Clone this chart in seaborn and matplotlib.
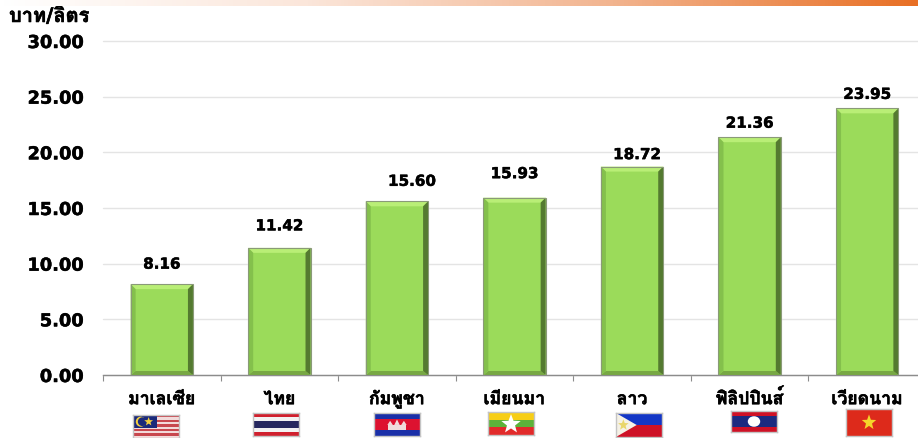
import numpy as np
import pandas as pd
import seaborn as sns
import matplotlib
matplotlib.use("Agg")
import matplotlib.pyplot as plt
import matplotlib.patheffects as pe
from matplotlib import font_manager as fm
from matplotlib.ft2font import FT2Font
from matplotlib.patches import Polygon, Rectangle, Ellipse
from matplotlib.colors import LinearSegmentedColormap

countries = ["มาเลเซีย", "ไทย", "กัมพูชา", "เมียนมา", "ลาว", "ฟิลิปปินส์", "เวียดนาม"]
prices = [8.16, 11.42, 15.60, 15.93, 18.72, 21.36, 23.95]
value_labels = ["8.16", "11.42", "15.60", "15.93", "18.72", "21.36", "23.95"]
y_ticks = [0, 5, 10, 15, 20, 25, 30]
unit_label = "บาท/ลิตร"

# hand placement of the value labels, in pixels from the top-centre of each bar
label_dx = [0, 0, 15, 0, 5, 0, 0]
label_dy = [20, 22, 20, 24, 12, 14, 14]

sns.set_theme(style="white")

thai = []
for f in fm.fontManager.ttflist:
    try:
        if 0x0E1A in FT2Font(f.fname).get_charmap() and f.name not in thai:
            thai.append(f.name)
    except Exception:
        pass
plt.rcParams['font.family'] = ['DejaVu Sans'] + thai

W, H = 918, 439
fig = plt.figure(figsize=(W / 100, H / 100), dpi=100, facecolor="white")
L, R, T, B = 103, 926, 42, 376
ax = fig.add_axes([L / W, 1 - B / H, (R - L) / W, (B - T) / H])

heavy = [pe.withStroke(linewidth=0.4, foreground="black")]

df = pd.DataFrame({"country": countries, "price": prices})
sns.barplot(data=df, x="country", y="price", color="#9BDB5A", saturation=1,
            width=0.53, ax=ax, zorder=3)
ax.set_xlim(-0.5, 6.5)
ax.set_ylim(0, 30)
ax.set_xlabel("")
ax.set_ylabel("")
ax.set_yticks(y_ticks, [f"{v:.2f}" for v in y_ticks], fontsize=12.8, fontweight="bold", color="black")
ax.tick_params(axis="y", length=0, pad=14)
ax.grid(axis="y", color="#E4E4E4", lw=1.0, zorder=0, clip_on=False)
ax.set_axisbelow(True)
for s in ["top", "right", "left"]:
    ax.spines[s].set_visible(False)
ax.spines["bottom"].set_color("#8C8C8C")
ax.spines["bottom"].set_linewidth(1.0)

ax.set_xticks(np.arange(-0.5, 7, 1), minor=True)
ax.tick_params(axis="x", which="minor", bottom=True, length=4, width=0.8, color="#8C8C8C")
ax.set_xticks(range(7), countries, fontsize=12.7, fontweight="bold", color="black")
ax.tick_params(axis="x", which="major", length=0, pad=21)
for tick in ax.get_xticklabels():
    tick.set_va("baseline")
    tick.set_path_effects(heavy)
for tick in ax.get_yticklabels():
    tick.set_path_effects([pe.withStroke(linewidth=0.35, foreground="black")])

fig.canvas.draw()
inv = ax.transData.inverted()
dx = inv.transform((5, 0))[0] - inv.transform((0, 0))[0]
dy = inv.transform((0, 5))[1] - inv.transform((0, 0))[1]
dyb = inv.transform((0, 4))[1] - inv.transform((0, 0))[1]
for bar, text, ox, oy in zip(ax.patches, value_labels, label_dx, label_dy):
    x0, w, h = bar.get_x(), bar.get_width(), bar.get_height()
    x1 = x0 + w
    faces = [
        ([(x0, h), (x1, h), (x1 - dx, h - dy), (x0 + dx, h - dy)], "#B9EE76"),
        ([(x0, 0), (x1, 0), (x1 - dx, dyb), (x0 + dx, dyb)], "#78A844"),
        ([(x0, 0), (x0, h), (x0 + dx, h - dy), (x0 + dx, dyb)], "#84C04C"),
        ([(x1, 0), (x1, h), (x1 - dx, h - dy), (x1 - dx, dyb)], "#547A30"),
    ]
    for pts, c in faces:
        ax.add_patch(Polygon(pts, closed=True, fc=c, ec="none", zorder=3.5))
    ax.add_patch(Rectangle((x0, 0), w, h, fc="none", ec="#8A9A78", lw=0.8, zorder=3.6))
    ax.annotate(text, (x0 + w / 2, h), xytext=(ox * 0.72, oy * 0.72), textcoords="offset points",
                ha="center", va="center", fontsize=10.9, fontweight="bold", color="black",
                path_effects=[pe.withStroke(linewidth=0.35, foreground="black")])

fig.text(9 / W, 1 - 23 / H, unit_label, fontsize=14.4, fontweight="bold", color="black",
         ha="left", va="baseline", path_effects=heavy)

strip = fig.add_axes([0, 1 - 7 / H, 1, 7 / H], zorder=5)
cmap = LinearSegmentedColormap.from_list("s", ["#FFFFFF", "#FBE6DA", "#F2B48F", "#E86F24"])
strip.imshow(np.linspace(0, 1, 256)[None, :], aspect="auto", cmap=cmap)
strip.axis("off")

def flag(cx, top, w, h):
    a = fig.add_axes([(cx - w / 2) / W, 1 - (top + h) / H, w / W, h / H], zorder=6)
    a.set_xlim(0, 1); a.set_ylim(0, 1); a.set_xticks([]); a.set_yticks([])
    for s in a.spines.values():
        s.set_color("#C4C4C4"); s.set_linewidth(1)
    return a

def bands(a, spec):
    y = 1.0
    for c, t in spec:
        a.add_patch(Rectangle((0, y - t), 1, t, fc=c, ec="none"))
        y -= t

def star(a, xy, r, c, asp):
    ang = np.pi / 2 + np.arange(10) * np.pi / 5
    rad = np.where(np.arange(10) % 2 == 0, r, r * 0.42)
    pts = np.c_[xy[0] + rad * np.cos(ang) * asp, xy[1] + rad * np.sin(ang)]
    a.add_patch(Polygon(pts, fc=c, ec="none"))

# Malaysia
a = flag(156, 416, 46, 23)
bands(a, [(c, 1 / 10) for c in ["#C8474E", "#F2DADA"] * 5])
a.add_patch(Rectangle((0, 0.42), 0.52, 0.58, fc="#1B2A7B", ec="none"))
a.add_patch(Ellipse((0.17, 0.71), 0.22, 0.44, fc="#F4D03F", ec="none"))
a.add_patch(Ellipse((0.205, 0.71), 0.2, 0.38, fc="#1B2A7B", ec="none"))
star(a, (0.34, 0.71), 0.2, "#F4D03F", 0.5)

# Thailand
a = flag(276, 414, 46, 23)
bands(a, [("#D0202E", 1 / 6), ("#F2F2F2", 1 / 6), ("#26285F", 2 / 6), ("#F2F2F2", 1 / 6), ("#D0202E", 1 / 6)])

# Cambodia
a = flag(397, 414, 46, 23)
bands(a, [("#1A2FA8", 0.25), ("#DD1230", 0.5), ("#1A2FA8", 0.25)])
a.add_patch(Rectangle((0.3, 0.27), 0.4, 0.22, fc="#F0DCDC", ec="none"))
for xc, hh in [(0.35, 0.66), (0.5, 0.72), (0.65, 0.66)]:
    a.add_patch(Polygon([(xc - 0.06, 0.48), (xc + 0.06, 0.48), (xc, hh)], fc="#F0DCDC", ec="none"))

# Myanmar
a = flag(511, 413, 46, 23)
bands(a, [("#F7CE16", 1 / 3), ("#5DB33A", 1 / 3), ("#E22B2B", 1 / 3)])
star(a, (0.5, 0.47), 0.44, "white", 0.5)

# Philippine flag under the "Lao" label, as in the source
a = flag(639, 414, 46, 24)
bands(a, [("#1336C6", 0.5), ("#CE1126", 0.5)])
a.add_patch(Polygon([(0, 0), (0, 1), (0.45, 0.5)], fc="#F5F1E6", ec="none"))
star(a, (0.16, 0.5), 0.24, "#E9D66B", 0.5)

# Lao flag under the "Philippines" label, as in the source
a = flag(754, 412, 46, 21)
bands(a, [("#CE1126", 0.25), ("#1B2A80", 0.5), ("#CE1126", 0.25)])
a.add_patch(Ellipse((0.5, 0.5), 0.27, 0.5, fc="white", ec="none"))

# Vietnam
a = flag(869, 410, 46, 27)
bands(a, [("#DD2A1B", 1)])
star(a, (0.5, 0.5), 0.3, "#F5D52A", 0.55)

fig.savefig("out.png", dpi=100, facecolor="white")
